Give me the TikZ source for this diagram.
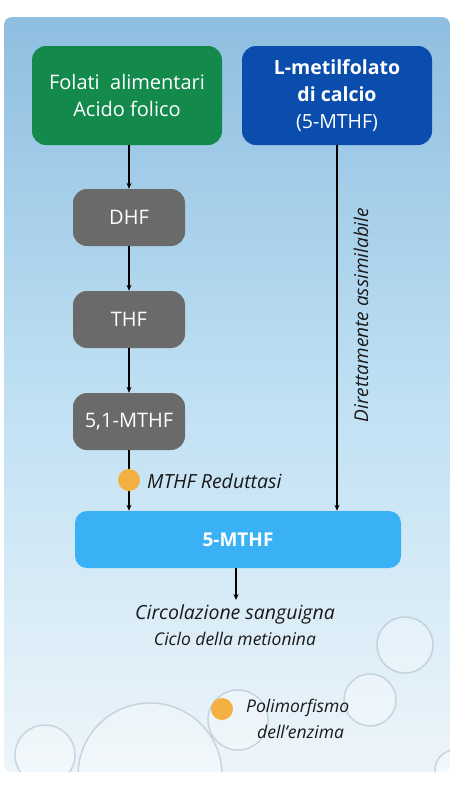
\documentclass[tikz,border=0pt]{standalone}
\usepackage{fontspec}
\setmainfont{Open Sans}
\usetikzlibrary{arrows.meta}
\definecolor{cgreen}{HTML}{138A4C}
\definecolor{cblue}{HTML}{0B4DAD}
\definecolor{cgray}{HTML}{6A6A6A}
\definecolor{csky}{HTML}{3AB1F5}
\definecolor{corange}{HTML}{F5B042}
\definecolor{bgtop}{HTML}{8EBEE0}
\definecolor{bgmid}{HTML}{BFE0F3}
\definecolor{bgbot}{HTML}{EDF5FA}
\definecolor{bubedge}{HTML}{9AAFC0}
\tikzset{
  box/.style={rounded corners=14pt, text=white, align=center, inner sep=0pt},
  graybox/.style={box, fill=cgray, minimum width=112pt, minimum height=57pt, font=\fontsize{20}{22}\selectfont},
  arr/.style={-{Stealth[length=6pt,width=5pt]}, line width=1.4pt, black},
  dot/.style={circle, fill=corange, minimum size=22pt, inner sep=0pt},
  itl/.style={font=\itshape, text=black!90, inner sep=0pt},
  bubble/.style={draw=bubedge, line width=1.5pt, fill=white, fill opacity=0.3, draw opacity=0.45}
}
\begin{document}
\begin{tikzpicture}[x=1pt,y=-1pt]
\useasboundingbox (0,0) rectangle (455,788);
\fill[white] (0,0) rectangle (455,788);
% panel
\begin{scope}
\clip[rounded corners=8pt] (4,17) rectangle (450,772);
\shade[top color=bgtop, bottom color=bgbot, middle color=bgmid] (4,17) rectangle (450,772);
% decorative bubbles
\draw[bubble] (150,775) circle (72pt);
\draw[bubble] (45,755) circle (30pt);
\draw[bubble] (238,720) circle (30pt);
\draw[bubble] (370,700) circle (26pt);
\draw[bubble] (405,645) circle (28pt);
\draw[bubble] (455,770) circle (20pt);
\end{scope}
% boxes
\node[box, fill=cgreen, minimum width=190pt, minimum height=99pt, font=\fontsize{20}{27}\selectfont] (fol) at (127,95.5) {Folati\ \ alimentari\\Acido folico};
\node[box, fill=cblue, minimum width=190pt, minimum height=99pt, font=\fontsize{19.5}{27}\selectfont] (lmet) at (337,95.5) {\textbf{L-metilfolato}\\\textbf{di calcio}\\(5-MTHF)};
\node[graybox] (dhf) at (129,217.5) {DHF};
\node[graybox] (thf) at (129,319.5) {THF};
\node[graybox] (m51) at (129,421.5) {5,1-MTHF};
\node[box, fill=csky, rounded corners=12pt, minimum width=326pt, minimum height=57pt, font=\bfseries\fontsize{19}{22}\selectfont] (m5) at (238,539.5) {5-MTHF};
% connectors
\draw[arr] (fol.south -| dhf.north) -- (dhf.north);
\draw[arr] (dhf) -- (thf);
\draw[arr] (thf) -- (m51);
\draw[arr] (m51.south) -- (m5.north -| m51.south);
\draw[arr] (lmet.south) -- (m5.north -| lmet.south);
\coordinate (circ) at (236,600);
\draw[arr] (m5.south -| circ) -- (circ);
% enzyme dot
\node[dot] (d1) at (129,480) {};
\node[itl, anchor=west, font=\itshape\fontsize{19.5}{22}\selectfont] (red) at (147,481) {MTHF Reduttasi};
\node[itl, rotate=90, font=\itshape\fontsize{19}{22}\selectfont] (dir) at (361,315) {Direttamente assimilabile};
\node[itl, font=\itshape\fontsize{19.5}{22}\selectfont] (c1) at (235,614) {Circolazione sanguigna};
\node[itl, font=\itshape\fontsize{17.5}{20}\selectfont] (c2) at (235,639) {Ciclo della metionina};
\node[dot] (d2) at (222,709) {};
\node[itl, anchor=west, font=\itshape\fontsize{17.5}{20}\selectfont] (p1) at (246,708) {Polimorfismo};
\node[itl, anchor=west, font=\itshape\fontsize{17.5}{20}\selectfont] (p2) at (257,732) {dell'enzima};
\end{tikzpicture}
\end{document}
